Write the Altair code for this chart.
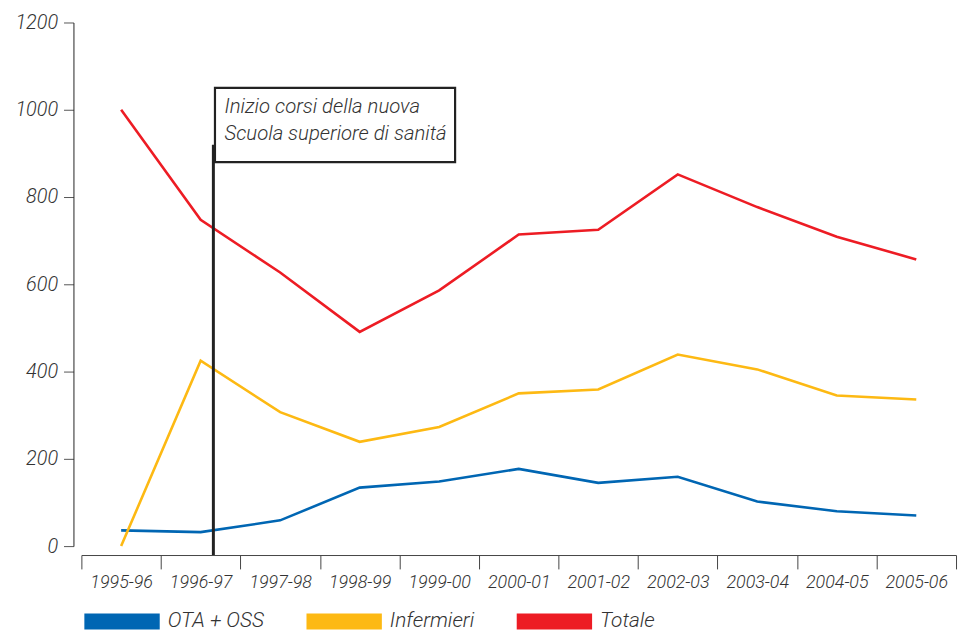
import altair as alt
import pandas as pd

years = ["1995-96", "1996-97", "1997-98", "1998-99", "1999-00", "2000-01",
         "2001-02", "2002-03", "2003-04", "2004-05", "2005-06"]
ota_oss = [36, 32, 59, 134, 148, 177, 145, 159, 102, 80, 70]
infermieri = [0, 425, 307, 239, 273, 350, 359, 439, 405, 345, 336]
totale = [1000, 748, 627, 491, 586, 714, 725, 852, 777, 709, 657]

series_names = ["OTA + OSS", "Infermieri", "Totale"]
series_colors = ["#0066b3", "#fdb913", "#ed1c24"]

# annotation (x in band units: 0..11 across the categories)
note_lines = ["Inizio corsi della nuova", "Scuola superiore di sanitá"]
note_line_y = [993, 931]
note_text_x = 1.80
note_rule_x = 1.66
note_rule_top = 920
note_box_x = [1.68, 4.70]
note_box_y = [880, 1050]

FONT = "Roboto"
FS = 18
W, H = 882, 528

rows = []
for name, vals in zip(series_names, [ota_oss, infermieri, totale]):
    for y, v in zip(years, vals):
        rows.append({"year": y, "value": v, "series": name})
df = pd.DataFrame(rows)

yscale = alt.Scale(domain=[0, 1200])

lines = alt.Chart(df).mark_line(strokeWidth=2.6).encode(
    x=alt.X("year:N", sort=years, title=None,
            scale=alt.Scale(paddingInner=0, paddingOuter=0),
            axis=alt.Axis(labelAngle=0, tickBand="extent", offset=9, tickSize=14,
                          labelPadding=5, labelFont=FONT, labelFontSize=FS,
                          labelFontWeight=300, labelFontStyle="italic",
                          labelColor="#333", domainColor="#444", tickColor="#444")),
    y=alt.Y("value:Q", title=None, scale=yscale,
            axis=alt.Axis(values=[0, 200, 400, 600, 800, 1000, 1200], format="d",
                          grid=False, offset=8, tickSize=10, labelPadding=6,
                          labelFont=FONT, labelFontSize=FS + 2, labelFontWeight=300,
                          labelFontStyle="italic", labelColor="#333",
                          domainColor="#222", tickColor="#555")),
    color=alt.Color("series:N", title=None,
                    scale=alt.Scale(domain=series_names, range=series_colors),
                    legend=alt.Legend(orient="none", legendX=-5, legendY=558,
                                      direction="horizontal", symbolType="stroke",
                                      symbolSize=76 * 76, symbolStrokeWidth=16,
                                      labelFont=FONT, labelFontSize=21,
                                      labelFontWeight=300,
                                      labelFontStyle="italic", labelColor="#333",
                                      labelOffset=0, columnPadding=10)),
    order=alt.Order("yr_idx:Q"),
).transform_calculate(yr_idx="indexof(" + str(years) + ", datum.year)")

xq = alt.Scale(domain=[0, 11])
rule_df = pd.DataFrame({"x": [note_rule_x], "value": [note_rule_top]})
rule = alt.Chart(rule_df).mark_rule(strokeWidth=3, color="#222").encode(
    x=alt.X("x:Q", scale=xq, axis=None),
    y=alt.Y("value:Q", scale=yscale),
    y2=alt.value(H + 9),
)
box_df = pd.DataFrame({"x": [note_box_x[0]], "x2": [note_box_x[1]],
                       "value": [note_box_y[0]], "v2": [note_box_y[1]]})
box = alt.Chart(box_df).mark_rect(fill="white", stroke="#222", strokeWidth=2.2).encode(
    x=alt.X("x:Q", scale=xq, axis=None), x2="x2:Q",
    y=alt.Y("value:Q", scale=yscale), y2="v2:Q",
)
text_df = pd.DataFrame({"x": [note_text_x] * 2, "value": note_line_y, "t": note_lines})
text = alt.Chart(text_df).mark_text(align="left", baseline="alphabetic", font=FONT,
                                    fontSize=20.5, fontWeight=300, fontStyle="italic",
                                    color="#333").encode(
    x=alt.X("x:Q", scale=xq, axis=None),
    y=alt.Y("value:Q", scale=yscale),
    text="t:N",
)

chart = alt.layer(lines, rule, box, text).resolve_scale(x="independent").properties(
    width=W, height=H,
    autosize=alt.AutoSizeParams(type="none"),
    padding={"left": 74, "top": 12, "right": 4, "bottom": 84},
).configure_view(stroke=None)

chart.save("out.html", embed_options={"renderer": "svg", "actions": False})
